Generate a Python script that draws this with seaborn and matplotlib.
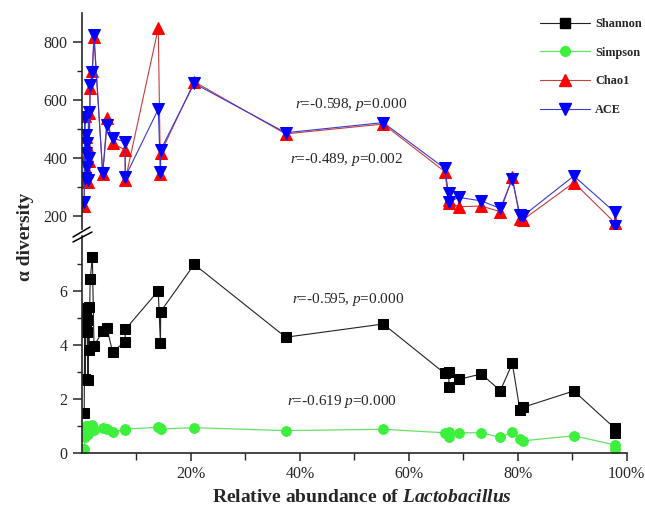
import matplotlib
matplotlib.use("Agg")
import matplotlib.pyplot as plt
from matplotlib.lines import Line2D
from matplotlib.ticker import FixedLocator
import seaborn as sns
import pandas as pd

# relative abundance of Lactobacillus (%) per sample
abundance = [0.4, 0.5, 0.6, 0.7, 0.8, 0.9, 1.0, 1.1, 1.2, 1.3, 1.5, 1.9, 2.2,
             3.8, 4.6, 5.6, 7.9, 7.95, 14.0, 14.4, 14.45, 20.6, 37.4, 55.3,
             66.6, 67.3, 67.4, 69.2, 73.3, 76.8, 79.0, 80.4, 80.9, 90.3, 97.8, 97.9]

shannon = [1.48, 5.37, 2.74, 4.63, 5.12, 4.50, 4.94, 2.71, 5.43, 3.83, 6.44, 7.28, 3.97,
           4.54, 4.63, 3.76, 4.13, 4.59, 6.02, 4.07, 5.25, 7.00, 4.30, 4.79,
           2.96, 3.02, 2.44, 2.74, 2.94, 2.32, 3.33, 1.60, 1.70, 2.31, 0.93, 0.76]

simpson = [0.15, 0.95, 0.60, 0.90, 1.02, 0.85, 0.95, 0.70, 1.00, 0.80, 0.95, 1.05, 0.86,
           0.92, 0.90, 0.78, 0.88, 0.90, 0.96, 0.92, 0.90, 0.95, 0.84, 0.89,
           0.76, 0.80, 0.59, 0.76, 0.76, 0.59, 0.80, 0.52, 0.46, 0.65, 0.31, 0.15]

chao1 = [232, 545, 320, 405, 470, 355, 440, 315, 555, 390, 640, 700, 815,
         345, 536, 450, 427, 323, 847, 345, 416, 662, 482, 516,
         352, 255, 245, 231, 233, 214, 332, 188, 185, 314, 176, 170]

ace = [248, 541, 329, 415, 478, 369, 450, 323, 559, 398, 651, 697, 823,
       346, 513, 467, 455, 334, 567, 352, 427, 656, 486, 521,
       363, 277, 248, 263, 251, 225, 326, 202, 198, 337, 212, 165]

x_ticks = [20, 40, 60, 80, 100]
x_labels = ["20%", "40%", "60%", "80%", "100%"]

df = pd.DataFrame({"abundance": abundance, "Shannon": shannon, "Simpson": simpson,
                   "Chao1": chao1, "ACE": ace})

sns.set_style("ticks")
plt.rcParams["font.family"] = ["Liberation Serif", "DejaVu Serif"]
plt.rcParams["mathtext.fontset"] = "custom"
plt.rcParams["mathtext.rm"] = "Liberation Serif"
plt.rcParams["mathtext.it"] = "Liberation Serif:italic"
plt.rcParams["mathtext.bf"] = "Liberation Serif:bold:italic"

W, H = 645, 511
fig = plt.figure(figsize=(W / 100, H / 100), dpi=100)


def box(x0, y0, x1, y1):
    return [x0 / W, 1 - y1 / H, (x1 - x0) / W, (y1 - y0) / H]


ax_top = fig.add_axes(box(82, 13, 626.7, 229))
ax_bot = fig.add_axes(box(82, 236, 626.7, 453.3))

styles = {
    "Chao1": dict(color="#c83c3c", lw=0.8, marker="^", markersize=8.5,
                  markerfacecolor="#ff0000", markeredgecolor="#ff0000"),
    "ACE": dict(color="#3a3ad0", lw=0.8, marker="v", markersize=8.5,
                markerfacecolor="#0000ff", markeredgecolor="#0000ff"),
    "Shannon": dict(color="#222222", lw=0.8, marker="s", markersize=6.5,
                    markerfacecolor="black", markeredgecolor="black"),
    "Simpson": dict(color="#66e066", lw=0.9, marker="o", markersize=7,
                    markerfacecolor="#3cf03c", markeredgecolor="#3cf03c"),
}

for name in ["Chao1", "ACE"]:
    sns.lineplot(data=df, x="abundance", y=name, ax=ax_top, estimator=None,
                 label=name, **styles[name])
for name in ["Shannon", "Simpson"]:
    sns.lineplot(data=df, x="abundance", y=name, ax=ax_bot, estimator=None,
                 label=name, **styles[name])

for ax in (ax_top, ax_bot):
    ax.set_xlim(0, 100)
    ax.set_xlabel("")
    ax.set_ylabel("")
    ax.spines["top"].set_visible(False)
    ax.spines["right"].set_visible(False)
    ax.spines["left"].set_linewidth(1.2)
    ax.spines["bottom"].set_linewidth(1.2)
    ax.tick_params(axis="both", which="major", direction="out", length=6.5, width=1.1,
                   labelsize=11.5, pad=4)
    ax.tick_params(axis="both", which="minor", direction="out", length=3.5, width=1.0)
    ax.get_legend().remove()

ax_top.set_ylim(154, 899)
ax_top.set_yticks([200, 400, 600, 800])
ax_top.yaxis.set_minor_locator(FixedLocator([300, 500, 700]))
ax_top.spines["bottom"].set_visible(False)
ax_top.tick_params(axis="x", which="both", bottom=False, labelbottom=False)

ax_bot.set_ylim(0, 8.05)
ax_bot.set_yticks([0, 2, 4, 6])
ax_bot.yaxis.set_minor_locator(FixedLocator([1, 3, 5, 7]))
ax_bot.set_xticks(x_ticks)
ax_bot.set_xticklabels(x_labels)
ax_bot.xaxis.set_minor_locator(FixedLocator([10, 30, 50, 70, 90]))
ax_bot.tick_params(axis="x", which="major", length=6, pad=3)
ax_bot.tick_params(axis="x", which="minor", length=5)

# axis break marks
for (xa, ya, xb, yb) in [(73, 237, 90, 227), (73, 242, 92, 232)]:
    fig.add_artist(Line2D([xa / W, xb / W], [1 - ya / H, 1 - yb / H], color="black", lw=1.1))

# correlation notes
ax_top.text(39.1, 585, r"$\it{r}$=-0.598, $\it{p}$=0.000", fontsize=11, va="center")
ax_top.text(38.2, 395, r"$\it{r}$=-0.489, $\it{p}$=0.002", fontsize=11, va="center")
ax_bot.text(38.5, 5.68, r"$\it{r}$=-0.595, $\it{p}$=0.000", fontsize=11, va="center")
ax_bot.text(37.6, 1.91, r"$\it{r}$=-0.619 $\it{p}$=0.000", fontsize=11, va="center")

# labels
fig.text(0.561, 1 - 497 / H, r"Relative abundance of $\mathbf{Lactobacillus}$",
         fontsize=14, fontweight="bold", ha="center", va="center")
fig.text(26 / W, 1 - 237 / H, "α diversity", fontsize=14, fontweight="bold",
         rotation=90, ha="center", va="center")

# legend
handles = [Line2D([], [], **styles[n]) for n in ["Shannon", "Simpson", "Chao1", "ACE"]]
fig.legend(handles, ["Shannon", "Simpson", "Chao1", "ACE"], loc="upper left",
           bbox_to_anchor=(540 / W, 1 - 18 / H), frameon=False, borderpad=0,
           borderaxespad=0, handlelength=4.1, labelspacing=1.36, handletextpad=0.4,
           prop={"weight": "bold", "size": 8.8})

fig.savefig("out.png", dpi=100)
